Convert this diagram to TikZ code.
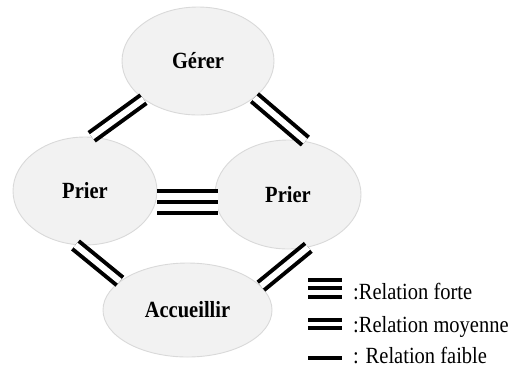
\documentclass[tikz,border=0pt]{standalone}
\usepackage{fontspec}
\setmainfont{Liberation Serif}
\usepackage{graphicx}
\usepackage{tikz}
\usetikzlibrary{shapes.geometric, positioning, calc}
\definecolor{BubbleFill}{HTML}{F2F2F2}
\definecolor{BubbleEdge}{HTML}{D9D9D9}
\newcommand{\tallword}[1]{\scalebox{1}[1.13]{#1}}

\begin{document}
\begin{tikzpicture}[
    x=1pt, y=-1pt,
    bubble/.style={ellipse, draw=BubbleEdge, line width=0.9pt, fill=BubbleFill, inner sep=0pt, font=\fontsize{20.5}{24}\selectfont\bfseries},
    legtext/.style={anchor=base west, inner sep=0pt, font=\fontsize{20.5}{24}\selectfont},
    strong/.style={line width=4pt, preaction={draw, line width=4pt, double=white, double distance=18pt}},
    medium/.style={line width=4pt, double=white, double distance=6pt},
    keystrong/.style={line width=4pt, preaction={draw, line width=4pt, double=white, double distance=13pt}},
    keymedium/.style={line width=4pt, double=white, double distance=4.5pt},
    keyweak/.style={line width=4pt}
]
    \useasboundingbox (0,0) rectangle (513,368);
    % activities
    \node[bubble, minimum width=152pt, minimum height=108pt] (gerer) at (198,61) {\tallword{Gérer}};
    \node[bubble, minimum width=144pt, minimum height=108pt] (prierL) at (85,191) {\tallword{Prier}};
    \node[bubble, minimum width=146pt, minimum height=109pt] (prierR) at (288,194.5) {\tallword{Prier}};
    \node[bubble, minimum width=169pt, minimum height=94pt] (accueil) at (187.5,310) {\tallword{Accueillir}};
    % relations
    \draw[medium] (prierL.83) -- (gerer.215);
    \draw[medium] (gerer.327) -- (prierR.72);
    \draw[strong] ([yshift=-11pt]prierL.east) -- ([xshift=3pt,yshift=-7.5pt]prierR.west);
    \draw[medium] (prierL.260) -- (accueil.157);
    \draw[medium] (accueil.18) -- (prierR.291);
    % legend
    \node[legtext] (lforte) at (353,299) {\tallword{:Relation forte}};
    \node[legtext] (lmoy) at (353,332) {\tallword{:Relation moyenne}};
    \node[legtext] (lfaible) at (353,363) {\tallword{: Relation faible}};
    \draw[keystrong] (308,288) -- (342,288);
    \draw[keymedium] (308,324) -- (342,324);
    \draw[keyweak] (308,358) -- (342,358);
\end{tikzpicture}
\end{document}
